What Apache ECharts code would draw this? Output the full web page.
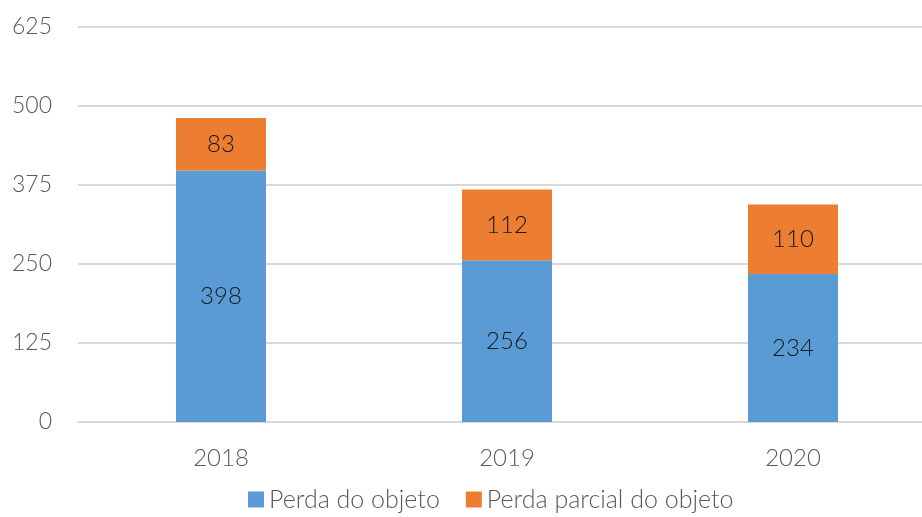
<!DOCTYPE html>
<html>
<head>
<meta charset="utf-8">
<script src="https://cdn.jsdelivr.net/npm/echarts@6/dist/echarts.min.js"></script>
<style>
  html, body { margin: 0; padding: 0; background: #fff; overflow: hidden; }
  #chart { width: 936px; height: 517px; }
</style>
</head>
<body>
<div id="chart"></div>
<script>
var years = ['2018', '2019', '2020'];
var perdaObjeto = [398, 256, 234];
var perdaParcial = [83, 112, 110];
var yTicks = [0, 125, 250, 375, 500, 625];

var font = 'Lato';

var option = {
  animation: false,
  grid: { left: 78, right: 0, top: 27, bottom: 95 },
  legend: {
    bottom: 0,
    left: 243,
    itemWidth: 16,
    itemHeight: 16,
    itemGap: 26,
    icon: 'rect',
    textStyle: { fontFamily: font, fontSize: 25, color: '#595959', fontWeight: 300 },
    data: ['Perda do objeto', 'Perda parcial do objeto']
  },
  xAxis: {
    type: 'category',
    data: years,
    axisLine: { lineStyle: { color: '#d9d9d9', width: 2 } },
    axisTick: { show: false },
    axisLabel: { margin: 24, fontFamily: font, fontSize: 24, color: '#595959', fontWeight: 300 }
  },
  yAxis: {
    type: 'value',
    min: yTicks[0],
    max: yTicks[yTicks.length - 1],
    interval: 125,
    axisLine: { show: false },
    axisTick: { show: false },
    splitLine: { lineStyle: { color: '#d9d9d9', width: 2 } },
    axisLabel: { margin: 26, fontFamily: font, fontSize: 23, color: '#595959', fontWeight: 300 }
  },
  series: [
    {
      name: 'Perda do objeto',
      type: 'bar',
      stack: 'total',
      barWidth: 90,
      data: perdaObjeto,
      itemStyle: { color: '#5b9bd5' },
      label: { show: true, position: 'inside', fontFamily: font, fontSize: 24, color: '#1a1a1a', fontWeight: 300 }
    },
    {
      name: 'Perda parcial do objeto',
      type: 'bar',
      stack: 'total',
      barWidth: 90,
      data: perdaParcial,
      itemStyle: { color: '#ed7d31' },
      label: { show: true, position: 'inside', fontFamily: font, fontSize: 24, color: '#1a1a1a', fontWeight: 300 }
    }
  ]
};

var myChart = echarts.init(document.getElementById('chart'));
myChart.setOption(option, true);
</script>
</body>
</html>
